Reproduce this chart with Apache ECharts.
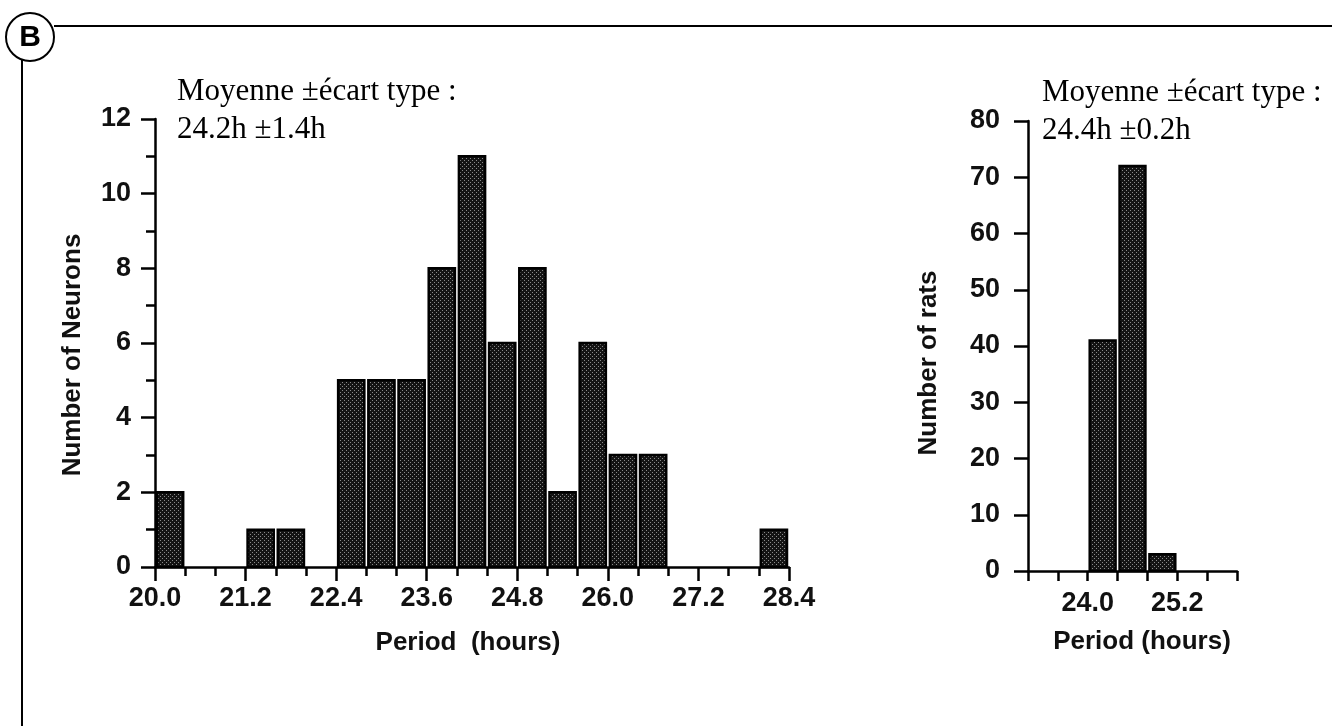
<!DOCTYPE html>
<html>
<head>
<meta charset="utf-8">
<script src="https://cdn.jsdelivr.net/npm/echarts@6/dist/echarts.min.js"></script>
<style>
html,body{margin:0;padding:0;background:#fff;}
#c{width:1332px;height:726px;}
</style>
</head>
<body>
<div id="c"></div>
<script>
// ---- data ----
const binWidth = 0.4;
const neuronBinStarts = [20.0, 21.2, 21.6, 22.4, 22.8, 23.2, 23.6, 24.0, 24.4, 24.8, 25.2, 25.6, 26.0, 26.4, 28.0];
const neuronCounts    = [2,    1,    1,    5,    5,    5,    8,    11,   6,    8,    2,    6,    3,    3,    1];
const ratBinStarts = [24.0, 24.4, 24.8];
const ratCounts    = [41,   72,   3];
const ratTickLabels = ['24.0', '25.2'];
const leftNote  = ['Moyenne \u00b1\u00e9cart type :', '24.2h \u00b11.4h'];
const rightNote = ['Moyenne \u00b1\u00e9cart type :', '24.4h \u00b10.2h'];
const yNameLeft = 'Number of Neurons';
const yNameRight = 'Number of rats';
const xNameLeft = 'Period  (hours)';
const xNameRight = 'Period (hours)';

// stipple pattern
const pc = document.createElement('canvas');
pc.width = 4; pc.height = 4;
const g = pc.getContext('2d');
g.fillStyle = '#141414'; g.fillRect(0,0,4,4);
g.fillStyle = '#8a8a8a'; g.fillRect(0,0,1,1); g.fillRect(2,2,1,1);
const pattern = {image: pc, repeat: 'repeat'};

function toData(starts, counts){
  return starts.map((s,i)=>[s, s+binWidth, counts[i]]);
}
function renderBar(params, api){
  const p0 = api.coord([api.value(0), 0]);
  const p1 = api.coord([api.value(1), api.value(2)]);
  return {
    type: 'rect',
    shape: {x: p0[0]+2, y: p1[1], width: p1[0]-p0[0]-4, height: p0[1]-p1[1]},
    style: {fill: pattern, stroke: '#000', lineWidth: 2.5}
  };
}

const SANS = "'Liberation Sans', Arial, Helvetica, sans-serif";
const SERIF = "'Liberation Serif', 'Times New Roman', serif";
const lbl = {color:'#111', fontFamily: SANS, fontSize: 27, fontWeight: 'bold'};
const nameStyle = {fontFamily:SANS, fontSize:26, fontWeight:'bold', fill:'#111', align:'center', verticalAlign:'middle'};
const axLine = {show:true, onZero:false, lineStyle:{color:'#000', width:2.5}};

const chart = echarts.init(document.getElementById('c'), null, {renderer:'canvas'});
chart.setOption({
  backgroundColor: '#fff',
  animation: false,
  grid: [
    {left:155, right:543, top:119, bottom:159},
    {left:1028, right:95, top:121, bottom:155}
  ],
  xAxis: [
    {gridIndex:0, type:'value', min:20.0, max:28.4, interval:1.2,
     axisLine: axLine,
     axisTick:{show:true, length:14, lineStyle:{color:'#000', width:2.5}},
     minorTick:{show:true, splitNumber:3, length:9, lineStyle:{color:'#000', width:2.5}},
     splitLine:{show:false}, minorSplitLine:{show:false},
     axisLabel:Object.assign({margin:18, formatter: v => v.toFixed(1)}, lbl)},
    {gridIndex:1, type:'value', min:23.2, max:26.0, interval:0.4,
     axisLine: axLine,
     axisTick:{show:true, length:10, lineStyle:{color:'#000', width:2.5}},
     splitLine:{show:false},
     axisLabel:Object.assign({margin:19, showMinLabel:true, showMaxLabel:true,
       formatter: v => { const s = v.toFixed(1); return ratTickLabels.indexOf(s) >= 0 ? s : ''; }}, lbl)}
  ],
  yAxis: [
    {gridIndex:0, type:'value', min:0, max:12, interval:2,
     axisLine: axLine,
     axisTick:{show:true, length:14, lineStyle:{color:'#000', width:2.5}},
     minorTick:{show:true, splitNumber:2, length:9, lineStyle:{color:'#000', width:2.5}},
     splitLine:{show:false}, minorSplitLine:{show:false},
     axisLabel:Object.assign({margin:24}, lbl)},
    {gridIndex:1, type:'value', min:0, max:80, interval:10,
     axisLine: axLine,
     axisTick:{show:true, length:14, lineStyle:{color:'#000', width:2.5}},
     splitLine:{show:false},
     axisLabel:Object.assign({margin:28}, lbl)}
  ],
  series: [
    {type:'custom', xAxisIndex:0, yAxisIndex:0, renderItem: renderBar,
     encode:{x:[0,1], y:2}, data: toData(neuronBinStarts, neuronCounts), clip:false},
    {type:'custom', xAxisIndex:1, yAxisIndex:1, renderItem: renderBar,
     encode:{x:[0,1], y:2}, data: toData(ratBinStarts, ratCounts), clip:false}
  ],
  graphic: [
    // frame
    {type:'line', shape:{x1:54, y1:26, x2:1332, y2:26}, style:{stroke:'#000', lineWidth:2}},
    {type:'line', shape:{x1:22, y1:60, x2:22, y2:726}, style:{stroke:'#000', lineWidth:2}},
    {type:'circle', shape:{cx:30, cy:37, r:24}, style:{fill:'#fff', stroke:'#000', lineWidth:2}},
    {type:'text', x:30, y:38, style:{text:'B', fontFamily:SANS, fontWeight:'bold', fontSize:30, fill:'#000', align:'center', verticalAlign:'middle'}},
    // notes
    {type:'text', x:177, y:92, style:{text:leftNote[0], fontFamily:SERIF, fontSize:31, fill:'#000', align:'left', verticalAlign:'middle'}},
    {type:'text', x:177, y:130, style:{text:leftNote[1], fontFamily:SERIF, fontSize:31, fill:'#000', align:'left', verticalAlign:'middle'}},
    {type:'text', x:1042, y:93, style:{text:rightNote[0], fontFamily:SERIF, fontSize:31, fill:'#000', align:'left', verticalAlign:'middle'}},
    {type:'text', x:1042, y:131, style:{text:rightNote[1], fontFamily:SERIF, fontSize:31, fill:'#000', align:'left', verticalAlign:'middle'}},
    // axis names
    {type:'text', x:73, y:355, rotation:Math.PI/2, style:Object.assign({text:yNameLeft}, nameStyle)},
    {type:'text', x:929, y:363, rotation:Math.PI/2, style:Object.assign({text:yNameRight}, nameStyle)},
    {type:'text', x:468, y:643, style:Object.assign({text:xNameLeft}, nameStyle)},
    {type:'text', x:1142, y:642, style:Object.assign({text:xNameRight}, nameStyle)}
  ]
});
</script>
</body>
</html>
